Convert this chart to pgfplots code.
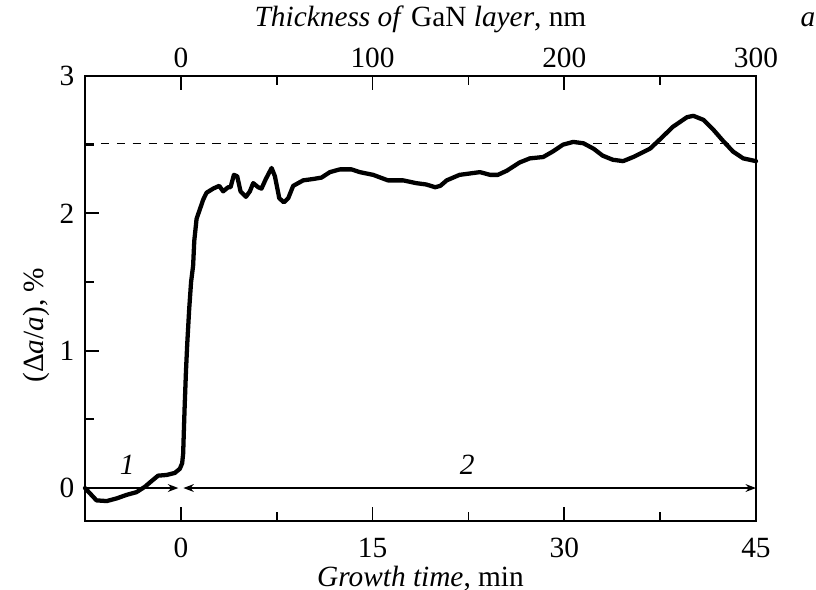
\documentclass[border=0pt]{standalone}
\usepackage{fontspec}
\setmainfont{Liberation Serif}
\usepackage{pgfplots}
\pgfplotsset{compat=1.18}
\usetikzlibrary{arrows.meta}

% one pixel of the reference
\def\u{0.0115cm}

\pgfplotstableread{
x y
-7.5 0.0
-7.1 -0.04
-6.6 -0.09
-5.8 -0.095
-5.0 -0.075
-4.25 -0.05
-3.47 -0.03
-2.8 0.01
-2.3 0.05
-1.78 0.09
-1.12 0.095
-0.47 0.11
-0.08 0.14
0.1 0.18
0.18 0.25
0.23 0.4
0.3 0.6
0.4 0.85
0.5 1.05
0.65 1.3
0.8 1.5
0.96 1.62
1.05 1.8
1.23 1.96
1.49 2.03
1.75 2.1
2.01 2.15
2.53 2.18
3.0 2.2
3.31 2.16
3.7 2.19
3.89 2.19
4.15 2.28
4.41 2.27
4.67 2.16
5.09 2.12
5.4 2.16
5.66 2.22
6.05 2.19
6.31 2.18
6.65 2.25
7.1 2.33
7.36 2.27
7.7 2.11
8.06 2.08
8.4 2.11
8.79 2.2
9.57 2.24
10.35 2.25
11.0 2.26
11.66 2.30
12.44 2.32
13.36 2.32
14.0 2.30
15.05 2.28
16.2 2.24
17.4 2.24
18.4 2.22
19.2 2.21
19.9 2.19
20.3 2.2
20.8 2.24
21.8 2.28
22.6 2.29
23.4 2.30
24.2 2.28
24.8 2.28
25.5 2.31
26.5 2.37
27.3 2.40
28.35 2.41
29.1 2.45
29.9 2.50
30.7 2.52
31.5 2.51
32.3 2.47
33.0 2.42
33.8 2.39
34.6 2.38
35.4 2.41
36.7 2.47
37.5 2.54
38.5 2.63
39.6 2.70
40.1 2.71
40.9 2.68
41.65 2.61
42.4 2.53
43.2 2.45
44.0 2.40
45 2.38
}\strain

\begin{document}
\begin{tikzpicture}[font=\fontsize{9.6}{11}\selectfont]
\pgfplotsset{
  common/.style={
    scale only axis,
    width=671*\u, height=445*\u,
    axis line style={line width=0.85pt},
    tick style={line width=0.6pt, black},
    tick align=inside,
    major tick length=14*\u,
    minor tick length=9*\u,
    /pgf/number format/assume math mode=true,
    clip=false,
  }
}
% top axis: thickness
\begin{axis}[common,
  xmin=-50, xmax=300, ymin=-0.24, ymax=3,
  axis x line*=top, hide y axis,
  xtick={0,100,200,300}, minor xtick={50,150,250},
  xlabel={\textit{Thickness of} GaN \textit{layer}, nm},
  xlabel style={yshift=-5*\u},
  xticklabel style={yshift=-1pt},
]
\addplot[draw=none] coordinates {(0,0)};
\node[inner sep=0pt] at (rel axis cs:1.0775,1.126) {\textit{a}};
\end{axis}
% main axis: growth time
\begin{axis}[common,
  xmin=-7.5, xmax=45, ymin=-0.24, ymax=3,
  xtick={0,15,30,45}, minor xtick={7.5,22.5,37.5},
  ytick={0,1,2,3}, minor ytick={0.5,1.5,2.5},
  xtick pos=bottom, ytick pos=left,
  xlabel={\textit{Growth time}, min},
  ylabel={(Δ\textit{a}/\textit{a}), \%},
  xlabel style={yshift=13*\u},
  ylabel style={at={(ticklabel cs:0.44)}, yshift=-11*\u},
  xticklabel style={yshift=-2pt},
]
\addplot[black, line width=0.45pt, dash pattern=on 2.8pt off 2.4pt] coordinates {(-7.5,2.51) (45,2.51)};
\addplot[black, line width=1.4pt, line join=round, line cap=round] table[x=x,y=y] {\strain};
\draw[line width=0.45pt, -{Stealth[length=1.2mm,width=0.9mm]}] (axis cs:-7.5,0) -- (axis cs:-0.2,0);
\draw[line width=0.45pt, {Stealth[length=1.2mm,width=0.9mm]}-{Stealth[length=1.2mm,width=0.9mm]}] (axis cs:0.2,0) -- (axis cs:45,0);
\node at (axis cs:-4.2,0.17) {\textit{1}};
\node at (axis cs:22.4,0.17) {\textit{2}};
\coordinate (bl) at (rel axis cs:0,0);
\coordinate (tr) at (rel axis cs:1,1);
\end{axis}
\pgfresetboundingbox
\useasboundingbox ([xshift=-85*\u, yshift=-69*\u]bl) rectangle ([xshift=60*\u, yshift=76*\u]tr);
\end{tikzpicture}
\end{document}
